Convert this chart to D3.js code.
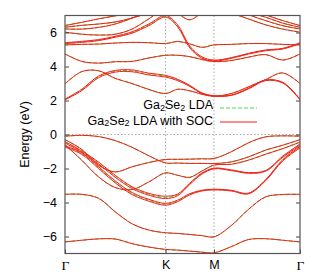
<!DOCTYPE html>
<html>
<head>
<meta charset="utf-8">
<script src="https://cdnjs.cloudflare.com/ajax/libs/d3/7.8.5/d3.min.js"></script>
<style>
  body { margin: 0; background: #fff; }
  svg { display: block; font-family: 'Liberation Sans', Arial, sans-serif; }
</style>
</head>
<body>
<svg id="chart" width="320" height="280"></svg>
<script>
// k-path sample points (Γ-K-M-Γ) and high symmetry ticks
const kPath = [0, 0.225, 0.45, 0.675, 0.9, 1.125, 1.35, 1.5125, 1.675, 1.8375, 2.0, 2.231, 2.462, 2.693, 2.924, 3.155]
const kTicks = [0, 1.35, 2.0, 3.155]
const kLabels = ['Γ', 'K', 'M', 'Γ']
const eTicks = [-6, -4, -2, 0, 2, 4, 6]

// LDA bands (eV)
const b1 = [-6.32, -6.22, -6.14, -6.15, -6.42, -6.62, -6.76, -6.8, -6.86, -6.92, -6.96, -6.6, -6.18, -6.13, -6.22, -6.32]
const b2 = [-3.52, -3.52, -3.75, -4.55, -5.25, -5.62, -5.78, -5.82, -5.88, -5.95, -6.02, -5.36, -4.41, -3.67, -3.53, -3.52]
const v1 = [-0.1, -0.05, -0.12, -0.36, -0.75, -1.25, -1.67, -1.68, -1.7, -1.7, -1.71, -1.61, -1.32, -0.92, -0.63, -0.3]
const v2 = [-0.3, -0.88, -1.81, -2.2, -1.9, -1.65, -1.47, -1.46, -1.45, -1.43, -1.41, -1.02, -0.49, -0.14, -0.08, -0.1]
const v3 = [-0.45, -1.0, -1.67, -2.45, -3.12, -3.51, -3.7, -3.55, -2.9, -2.3, -2.0, -2.1, -2.26, -2.14, -1.3, -0.6]
const v4 = [-0.7, -1.12, -1.94, -2.79, -3.47, -3.86, -4.1, -3.9, -3.51, -3.3, -3.24, -3.3, -3.47, -2.69, -1.51, -0.75]
const v5 = [-0.6, -1.51, -2.49, -3.12, -3.24, -2.79, -2.26, -2.4, -2.52, -2.15, -1.8, -1.75, -1.51, -1.16, -0.83, -0.45]
const c1 = [2.06, 2.62, 3.39, 3.72, 3.74, 3.55, 3.43, 3.21, 2.86, 2.43, 2.27, 2.31, 2.7, 3.19, 3.05, 2.06]
const c2 = [2.98, 3.7, 3.75, 3.3, 3.0, 2.65, 2.41, 2.66, 2.57, 2.37, 2.25, 2.41, 2.8, 3.23, 3.62, 3.0]
const c3 = [4.74, 4.3, 4.2, 4.28, 4.3, 4.5, 4.66, 4.66, 4.58, 4.41, 4.29, 4.35, 4.55, 4.7, 4.38, 4.74]
const c4 = [5.27, 5.3, 5.32, 5.38, 5.42, 5.4, 5.35, 5.47, 5.33, 5.13, 5.27, 5.3, 5.35, 5.35, 5.3, 5.27]
const c5 = [5.37, 5.45, 5.55, 5.75, 6.0, 6.45, 6.95, 6.39, 5.15, 4.53, 4.35, 4.5, 4.75, 4.95, 5.05, 5.37]
const c6 = [6.02, 5.9, 5.85, 5.9, 6.2, 6.8, 7.4, 7.1, 6.75, 7.15, 7.5, 7.15, 6.8, 6.45, 6.2, 6.02]
const c7 = [6.21, 6.2, 6.3, 6.5, 6.85, 7.3, 7.8, 8.0, 8.0, 8.0, 8.0, 7.5, 7.05, 6.7, 6.4, 6.21]
const c8 = [6.31, 6.42, 6.5, 6.62, 6.85, 7.15, 7.5, 8.0, 8.0, 8.0, 8.0, 7.7, 7.2, 6.9, 6.55, 6.31]
const c9 = [6.41, 6.6, 6.8, 6.98, 7.2, 7.5, 7.9, 8.0, 8.0, 8.0, 8.0, 7.9, 7.5, 7.05, 6.7, 6.41]

// SOC split pairs (the rest follow LDA)
const socV3a = [-0.42, -0.96, -1.62, -2.4, -3.07, -3.46, -3.63, -3.5, -2.86, -2.27, -1.98, -2.08, -2.24, -2.12, -1.27, -0.56]
const socV3b = [-0.5, -1.05, -1.73, -2.52, -3.18, -3.57, -3.77, -3.6, -2.94, -2.33, -2.02, -2.12, -2.28, -2.16, -1.34, -0.64]
const socV4a = [-0.66, -1.08, -1.89, -2.73, -3.41, -3.81, -4.05, -3.86, -3.48, -3.28, -3.22, -3.28, -3.45, -2.66, -1.47, -0.71]
const socV4b = [-0.74, -1.17, -2.0, -2.85, -3.53, -3.92, -4.16, -3.95, -3.55, -3.32, -3.26, -3.32, -3.49, -2.72, -1.55, -0.79]
const socC1a = [2.08, 2.66, 3.44, 3.77, 3.8, 3.61, 3.48, 3.25, 2.89, 2.45, 2.28, 2.32, 2.72, 3.21, 3.07, 2.08]
const socC1b = [2.04, 2.58, 3.34, 3.67, 3.69, 3.5, 3.38, 3.17, 2.83, 2.41, 2.26, 2.3, 2.68, 3.17, 3.03, 2.04]
const socC5a = [5.4, 5.48, 5.58, 5.78, 6.04, 6.5, 7.0, 6.45, 5.2, 4.57, 4.38, 4.52, 4.77, 4.97, 5.07, 5.4]
const socC5b = [5.34, 5.42, 5.52, 5.72, 5.96, 6.4, 6.9, 6.33, 5.1, 4.49, 4.32, 4.48, 4.73, 4.93, 5.03, 5.34]

const ldaBands = [b1, b2, v1, v2, v3, v4, v5, c1, c2, c3, c4, c5, c6, c7, c8, c9]
const socBands = [b1, b2, v1, v2, socV3a, socV3b, socV4a, socV4b, v5, socC1a, socC1b, c2, c3, c4, socC5a, socC5b, c6, c7, c8, c9]

const svg = d3.select('#chart')
const plotLeft = 65, plotRight = 300, plotTop = 15.5, plotBottom = 253.5

const xScale = d3.scaleLinear().domain([0, 3.155]).range([plotLeft, plotRight])
const yScale = d3.scaleLinear().domain([-7, 7]).range([plotBottom, plotTop])

svg.append('defs').append('clipPath')
    .attr('id', 'plot-clip')
    .append('rect')
    .attr('x', plotLeft).attr('y', plotTop)
    .attr('width', plotRight - plotLeft).attr('height', plotBottom - plotTop)

// grid: K, M verticals and the zero line
const grid = svg.append('g')
    .attr('stroke', '#aaa')
    .attr('stroke-width', 1)
    .attr('stroke-dasharray', '1.5,2')
grid.selectAll('line.kv')
    .data(kTicks.slice(1, 3))
    .join('line')
    .attr('x1', d => xScale(d)).attr('x2', d => xScale(d))
    .attr('y1', plotTop).attr('y2', plotBottom)
grid.append('line')
    .attr('x1', plotLeft).attr('x2', plotRight)
    .attr('y1', yScale(0)).attr('y2', yScale(0))

const line = d3.line()
    .x((d, i) => xScale(kPath[i]))
    .y(d => yScale(d))
    .curve(d3.curveCatmullRom.alpha(0.5))

const bands = svg.append('g').attr('clip-path', 'url(#plot-clip)')

bands.selectAll('path.lda')
    .data(ldaBands)
    .join('path')
    .attr('class', 'lda')
    .attr('d', line)
    .attr('fill', 'none')
    .attr('stroke', '#22dd22')
    .attr('stroke-width', 1)
    .attr('stroke-dasharray', '4,2')

bands.selectAll('path.soc')
    .data(socBands)
    .join('path')
    .attr('class', 'soc')
    .attr('d', line)
    .attr('fill', 'none')
    .attr('stroke', '#ff1a1a')
    .attr('stroke-width', 1)

// axes
const yAxis = svg.append('g')
    .attr('transform', `translate(${plotLeft},0)`)
    .call(d3.axisLeft(yScale).tickValues(eTicks).tickSize(-4).tickPadding(8).tickFormat(d3.format('d')))
const yAxisR = svg.append('g')
    .attr('transform', `translate(${plotRight},0)`)
    .call(d3.axisRight(yScale).tickValues(eTicks).tickSize(-4).tickFormat(''))
const xAxis = svg.append('g')
    .attr('transform', `translate(0,${plotBottom})`)
    .call(d3.axisBottom(xScale).tickValues(kTicks).tickSize(-4).tickPadding(7).tickFormat((d, i) => kLabels[i]))

svg.selectAll('.domain').remove()
svg.selectAll('.tick line').attr('stroke', '#444')
svg.selectAll('.tick text')
    .attr('fill', '#000')
    .style('font-size', '12.5px')
    .style('font-family', "'Liberation Sans', Arial, sans-serif")
xAxis.selectAll('.tick text')
    .filter(d => d === 0 || d === 3.155)
    .style('font-family', "'Liberation Serif', 'DejaVu Serif', serif")
    .style('font-size', '13.5px')

// border
svg.append('rect')
    .attr('x', plotLeft).attr('y', plotTop)
    .attr('width', plotRight - plotLeft).attr('height', plotBottom - plotTop)
    .attr('fill', 'none')
    .attr('stroke', '#555')
    .attr('stroke-width', 1.2)

// y label
svg.append('text')
    .attr('transform', `translate(29,${(plotTop + plotBottom) / 2}) rotate(-90)`)
    .attr('text-anchor', 'middle')
    .style('font-size', '12.5px')
    .text('Energy (eV)')

// legend
const legendRows = [
    {label: 'LDA', color: '#44e044', dash: '4,2', y: 108, base: 109},
    {label: 'LDA with SOC', color: '#ff1a1a', dash: null, y: 122, base: 124.5}
]
const legend = svg.append('g')
legendRows.forEach(r => {
    const t = legend.append('text')
        .attr('x', 213).attr('y', r.base)
        .attr('text-anchor', 'end')
        .style('font-size', '12.5px')
    t.append('tspan').text('Ga')
    t.append('tspan').attr('dy', 1.5).style('font-size', '9px').text('2')
    t.append('tspan').attr('dy', -1.5).text('Se')
    t.append('tspan').attr('dy', 1.5).style('font-size', '9px').text('2')
    t.append('tspan').attr('dy', -1.5).text(' ' + r.label)
    legend.append('line')
        .attr('x1', 220).attr('x2', 257)
        .attr('y1', r.y).attr('y2', r.y)
        .attr('stroke', r.color)
        .attr('stroke-width', 1)
        .attr('stroke-dasharray', r.dash)
})
</script>
</body>
</html>
